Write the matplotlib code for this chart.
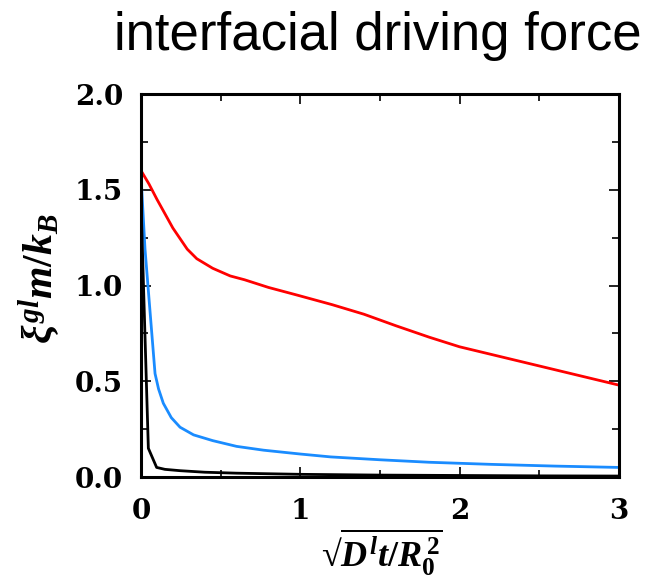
import matplotlib
matplotlib.use("Agg")
import matplotlib.pyplot as plt
from matplotlib.ticker import MultipleLocator

plt.rcParams["mathtext.fontset"] = "custom"
plt.rcParams["mathtext.rm"] = "Liberation Serif:bold"
plt.rcParams["mathtext.it"] = "Liberation Serif:italic:bold"
plt.rcParams["mathtext.bf"] = "Liberation Serif:bold"

# red curve
red_x = [0.0, 0.05, 0.1, 0.14, 0.2, 0.29, 0.35, 0.45, 0.56, 0.65, 0.8, 0.98, 1.2, 1.4, 1.6,
         1.81, 2.0, 2.25, 2.5, 2.75, 3.0]
red_y = [1.60, 1.53, 1.45, 1.39, 1.30, 1.19, 1.14, 1.09, 1.05, 1.03, 0.99, 0.95, 0.90, 0.85,
         0.79, 0.73, 0.68, 0.63, 0.58, 0.53, 0.48]

# blue curve
blue_x = [0.0, 0.025, 0.088, 0.11, 0.14, 0.19, 0.245, 0.33, 0.45, 0.6, 0.77, 1.0, 1.19, 1.5,
          1.81, 2.2, 2.6, 3.0]
blue_y = [1.57, 1.19, 0.54, 0.46, 0.385, 0.31, 0.26, 0.22, 0.19, 0.16, 0.14, 0.12, 0.105,
          0.09, 0.077, 0.066, 0.057, 0.05]

# black curve
black_x = [0.0, 0.046, 0.098, 0.15, 0.245, 0.4, 0.6, 1.0, 1.5, 2.0, 2.5, 3.0]
black_y = [1.43, 0.15, 0.05, 0.04, 0.033, 0.025, 0.02, 0.014, 0.01, 0.008, 0.006, 0.005]

fig = plt.figure(figsize=(6.59, 5.85), dpi=100)
ax = fig.add_axes([0.214, 0.1846, 0.725, 0.6547])

ax.plot(red_x, red_y, color="#ff0000", lw=2.0)
ax.plot(blue_x, blue_y, color="#1a8cff", lw=2.0)
ax.plot(black_x, black_y, color="black", lw=2.0)

ax.set_xlim(0, 3)
ax.set_ylim(0, 2)
ax.xaxis.set_major_locator(MultipleLocator(1))
ax.xaxis.set_minor_locator(MultipleLocator(0.5))
ax.yaxis.set_major_locator(MultipleLocator(0.5))
ax.yaxis.set_minor_locator(MultipleLocator(0.25))
ax.yaxis.set_major_formatter(plt.FormatStrFormatter("%.1f"))

for s in ax.spines.values():
    s.set_linewidth(2.2)
ax.tick_params(which="both", direction="in", top=True, right=True, width=1.2)
ax.tick_params(which="major", length=7)
ax.tick_params(which="minor", length=5)
ax.tick_params(axis="x", labelsize=20, pad=15)
ax.tick_params(axis="y", labelsize=20, pad=13)
for lab in ax.get_xticklabels() + ax.get_yticklabels():
    lab.set_family("DejaVu Serif")
    lab.set_fontweight("bold")

ax.set_xlabel("$\u221a\\overline{D^{l}t/R_0^{\\,2}}$", fontsize=26)
ax.set_ylabel(r"$\xi^{gl}m/k_B$", fontsize=30)
ax.xaxis.set_label_coords(0.504, -0.13)
ax.yaxis.set_label_coords(-0.165, 0.517)

fig.text(0.573, 0.9145, "interfacial driving force", fontsize=38,
         family="Liberation Sans", ha="center", va="baseline")

fig.savefig("out.png", dpi=100)
